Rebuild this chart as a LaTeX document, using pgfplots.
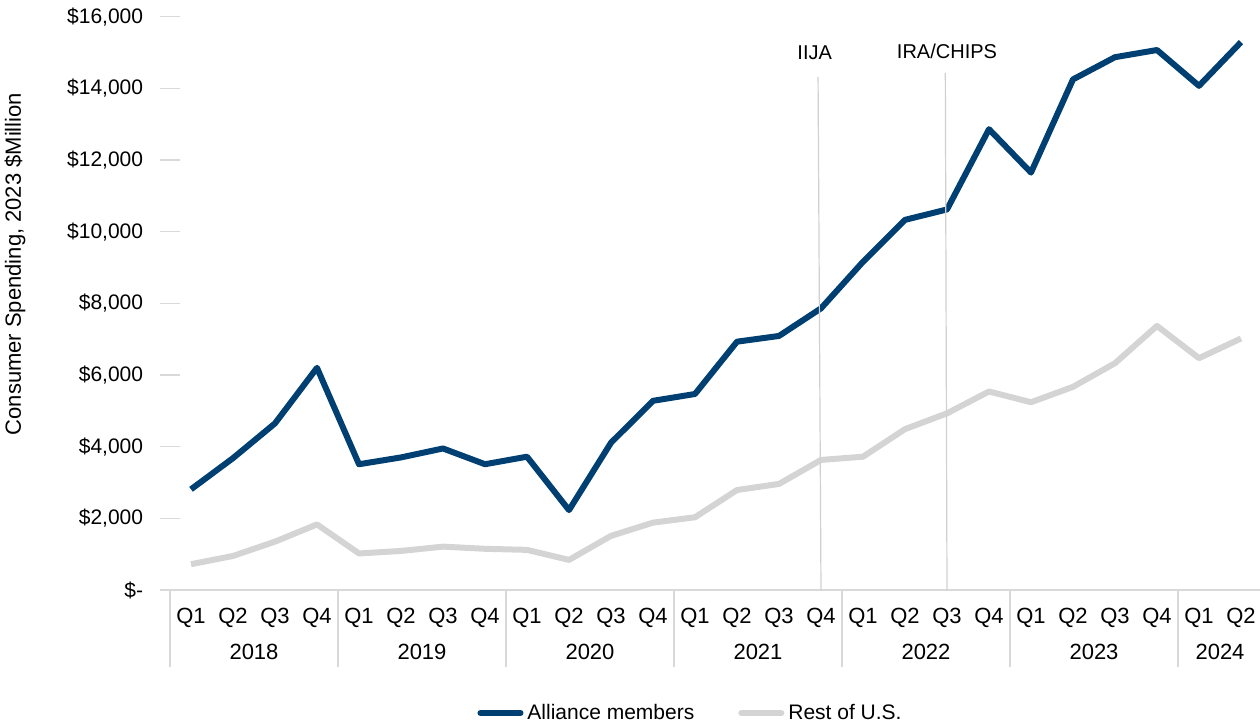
\documentclass[border=0pt]{standalone}
\usepackage{pgfplots}
\pgfplotsset{compat=1.18}
\usepackage{fontspec}
\setmainfont{Liberation Sans}
\definecolor{alliance}{HTML}{003F72}
\definecolor{restus}{HTML}{D4D4D4}
\definecolor{axgray}{HTML}{D9D9D9}
\definecolor{vlgray}{HTML}{D0D0D0}
\pgfplotstableread{
idx alliance rest
0 2810 720
1 3680 950
2 4650 1350
3 6200 1830
4 3510 1020
5 3700 1090
6 3950 1210
7 3510 1150
8 3720 1120
9 2230 840
10 4110 1510
11 5280 1880
12 5470 2030
13 6930 2790
14 7090 2960
15 7860 3630
16 9160 3720
17 10330 4490
18 10620 4930
19 12860 5540
20 11650 5240
21 14250 5670
22 14870 6330
23 15070 7370
24 14070 6470
25 15290 7020
}\datatable
\begin{document}
\begin{tikzpicture}
\path[use as bounding box] (0,0) rectangle (630bp,363bp);
\begin{axis}[
  at={(85bp,68bp)}, anchor=south west,
  scale only axis, width=546bp, height=286.65bp,
  xmin=-0.5, xmax=25.5, ymin=0, ymax=16000,
  clip=false,
  scaled y ticks=false, scaled x ticks=false,
  axis x line*=bottom, axis y line*=left,
  x axis line style={draw=axgray, line width=0.8bp, -},
  y axis line style={draw=none},
  xtick={0,...,25},
  xticklabels={Q1,Q2,Q3,Q4,Q1,Q2,Q3,Q4,Q1,Q2,Q3,Q4,Q1,Q2,Q3,Q4,Q1,Q2,Q3,Q4,Q1,Q2,Q3,Q4,Q1,Q2},
  xtick style={draw=none},
  xticklabel style={anchor=center, yshift=-9bp, font=\fontsize{11bp}{13bp}\selectfont},
  ytick={0,2000,4000,6000,8000,10000,12000,14000,16000},
  yticklabels={{\$-},{\$2,000},{\$4,000},{\$6,000},{\$8,000},{\$10,000},{\$12,000},{\$14,000},{\$16,000}},
  tick align=center, major tick length=9.5bp,
  ytick style={draw=axgray, line width=0.75bp},
  yticklabel style={anchor=east, inner sep=0pt, xshift=-8.5bp, font=\fontsize{10.5bp}{12.6bp}\selectfont},
  ylabel={Consumer Spending, 2023 \$Million},
  every axis y label/.style={at={(axis description cs:-0.1419,0.5686)}, rotate=90, anchor=center, font=\fontsize{11bp}{13bp}\selectfont},
  legend style={at={(axis description cs:0.4776,-0.2145)}, anchor=center, draw=none, fill=none,
    legend columns=2, font=\fontsize{10.5bp}{12.6bp}\selectfont,
    /tikz/every even column/.append style={column sep=20bp},
    nodes={inner sep=2bp}},
  legend image code/.code={\draw[#1, line cap=round] (0bp,0bp) -- (20bp,0bp);},
]
% category separators
\foreach \s in {-0.5,3.5,7.5,11.5,15.5,19.5,23.5}{
  \edef\tmp{\noexpand\draw[axgray, line width=0.75bp] (axis cs:\s,0) -- ([yshift=-38.5bp]axis cs:\s,0);}\tmp
}
\addplot[alliance, line width=3bp, line join=round] table[x=idx, y=alliance]{\datatable};
\addlegendentry{Alliance members}
\addplot[restus, line width=3bp, line join=round] table[x=idx, y=rest]{\datatable};
\addlegendentry{Rest of U.S.}
% policy lines
\draw[vlgray, line width=0.6bp] (axis cs:14.93,14320) -- (axis cs:15,0);
\draw[vlgray, line width=0.6bp] (axis cs:17.96,14430) -- (axis cs:18,0);
\node[font=\fontsize{10bp}{12bp}\selectfont] at (axis cs:14.85,14990) {IIJA};
\node[font=\fontsize{10bp}{12bp}\selectfont] at (axis cs:18.0,15020) {IRA/CHIPS};
% year labels
\foreach \c/\y in {1.5/2018,5.5/2019,9.5/2020,13.5/2021,17.5/2022,21.5/2023,24.5/2024}{
  \edef\tmp{\noexpand\node[font=\noexpand\fontsize{11bp}{13bp}\noexpand\selectfont] at (axis cs:\c,0) [yshift=-31bp] {\y};}\tmp
}
\end{axis}
\end{tikzpicture}
\end{document}
